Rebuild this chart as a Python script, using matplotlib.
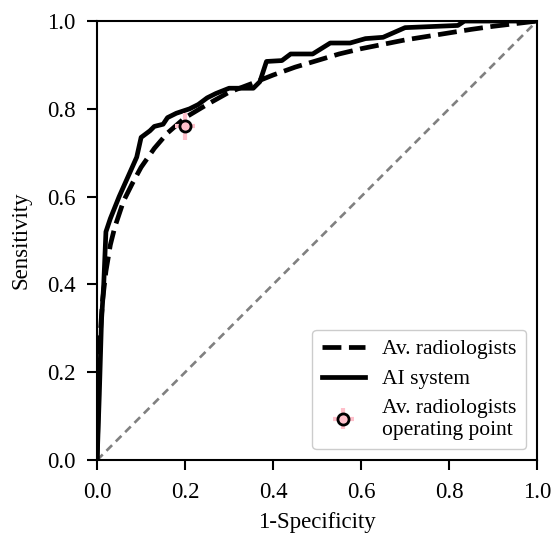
import matplotlib
matplotlib.use("Agg")
import matplotlib.pyplot as plt

# ROC curve of the averaged radiologist reading
rad_fpr = [0.0, 0.004, 0.008, 0.012, 0.02, 0.03, 0.04, 0.06, 0.08, 0.10, 0.13, 0.16,
           0.20, 0.25, 0.30, 0.35, 0.40, 0.45, 0.50, 0.55, 0.60, 0.65, 0.70,
           0.75, 0.80, 0.85, 0.90, 0.95, 1.0]
rad_tpr = [0.0, 0.20, 0.30, 0.36, 0.43, 0.49, 0.53, 0.59, 0.63, 0.667, 0.71, 0.745,
           0.78, 0.81, 0.838, 0.857, 0.877, 0.895, 0.91, 0.925, 0.937, 0.947, 0.957,
           0.965, 0.973, 0.981, 0.988, 0.994, 1.0]

# ROC curve of the AI system
ai_fpr = [0.0, 0.005, 0.01, 0.015, 0.02, 0.025, 0.03, 0.05, 0.07, 0.09, 0.10, 0.12,
          0.13, 0.15, 0.16, 0.18, 0.21, 0.23, 0.25, 0.27, 0.30, 0.355, 0.37, 0.385,
          0.42, 0.44, 0.49, 0.53, 0.575, 0.61, 0.65, 0.70, 0.82, 0.835, 1.0]
ai_tpr = [0.0, 0.15, 0.32, 0.40, 0.52, 0.535, 0.55, 0.60, 0.645, 0.69, 0.735, 0.75,
          0.76, 0.765, 0.78, 0.79, 0.80, 0.81, 0.825, 0.835, 0.847, 0.847, 0.862, 0.908,
          0.91, 0.925, 0.925, 0.95, 0.95, 0.96, 0.963, 0.985, 0.99, 1.0, 1.0]

# Radiologists' operating point with spread
op_fpr = 0.20
op_tpr = 0.76
op_fpr_err = 0.022
op_tpr_err = 0.03

ticks = [0.0, 0.2, 0.4, 0.6, 0.8, 1.0]
tick_labels = ["0.0", "0.2", "0.4", "0.6", "0.8", "1.0"]

plt.rcParams["font.family"] = ["Liberation Serif", "DejaVu Serif"]
plt.rcParams["font.size"] = 16

fig = plt.figure(figsize=(5.55, 5.40), dpi=100)
ax = fig.add_axes([0.175, 0.148, 0.7926, 0.813])

ax.plot([0, 1], [0, 1], linestyle=(0, (3, 2)), color="gray", lw=1.9, zorder=1)
ax.plot(rad_fpr, rad_tpr, color="black", lw=3.4, linestyle=(0, (4, 1.6)),
        label="Av. radiologists", zorder=3)
ax.plot(ai_fpr, ai_tpr, color="black", lw=3.4, linestyle="-",
        label="AI system", zorder=2)
ax.errorbar([op_fpr], [op_tpr], xerr=[op_fpr_err], yerr=[op_tpr_err],
            fmt="o", color="pink", ecolor="pink", elinewidth=3.0, capsize=0,
            markersize=8, markerfacecolor="pink", markeredgecolor="black",
            markeredgewidth=2.0, label="Av. radiologists\noperating point", zorder=4)

ax.set_xlim(0, 1)
ax.set_ylim(0, 1)
ax.set_xticks(ticks)
ax.set_xticklabels(tick_labels)
ax.set_yticks(ticks)
ax.set_yticklabels(tick_labels)
ax.tick_params(labelsize=16.5, length=7, width=1.5, pad=8.5)
for s in ax.spines.values():
    s.set_linewidth(1.5)
ax.set_xlabel("1-Specificity", fontsize=16.5, labelpad=7)
ax.set_ylabel("Sensitivity", fontsize=16.5, labelpad=11)

ax.legend(loc="lower right", fontsize=15.5, handlelength=2.0, framealpha=1.0,
          borderpad=0.45, labelspacing=0.45, handletextpad=0.8)

fig.savefig("out.png", dpi=100)
